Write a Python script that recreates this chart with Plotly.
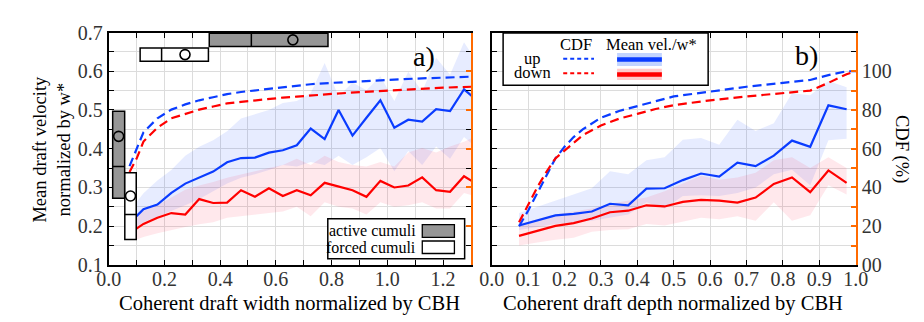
import plotly.graph_objects as go

# ---------------- Panel a) : draft width ----------------
width_x = [0.1, 0.125, 0.175, 0.225, 0.275, 0.325, 0.375, 0.425, 0.475, 0.525, 0.575, 0.625, 0.675,
           0.725, 0.775, 0.825, 0.875, 0.925, 0.975, 1.025, 1.075, 1.125, 1.175, 1.225, 1.275, 1.325]
width_up_mean = [0.226, 0.244, 0.256, 0.286, 0.310, 0.326, 0.341, 0.365, 0.376, 0.377, 0.390, 0.396, 0.409,
                 0.452, 0.425, 0.500, 0.434, 0.480, 0.525, 0.454, 0.475, 0.470, 0.502, 0.497, 0.553, 0.523]
width_up_hi = [0.262, 0.285, 0.318, 0.345, 0.382, 0.405, 0.422, 0.445, 0.478, 0.490, 0.500, 0.518, 0.523,
               0.543, 0.621, 0.535, 0.571, 0.551, 0.587, 0.523, 0.599, 0.547, 0.635, 0.591, 0.675, 0.620]
width_up_lo = [0.198, 0.210, 0.225, 0.240, 0.254, 0.270, 0.290, 0.310, 0.325, 0.334, 0.345, 0.358, 0.354,
               0.366, 0.358, 0.382, 0.358, 0.378, 0.402, 0.342, 0.394, 0.358, 0.406, 0.374, 0.430, 0.400]
width_dn_mean = [0.194, 0.206, 0.222, 0.234, 0.230, 0.270, 0.260, 0.261, 0.293, 0.276, 0.298, 0.278, 0.293,
                 0.280, 0.312, 0.302, 0.293, 0.276, 0.317, 0.300, 0.305, 0.326, 0.293, 0.289, 0.329, 0.307]
width_dn_hi = [0.226, 0.240, 0.254, 0.275, 0.294, 0.305, 0.314, 0.325, 0.334, 0.342, 0.350, 0.358, 0.374,
               0.358, 0.382, 0.366, 0.358, 0.354, 0.366, 0.354, 0.390, 0.402, 0.390, 0.406, 0.418, 0.435]
width_dn_lo = [0.166, 0.172, 0.182, 0.190, 0.198, 0.205, 0.210, 0.222, 0.226, 0.230, 0.234, 0.238, 0.250,
               0.226, 0.262, 0.250, 0.246, 0.230, 0.262, 0.250, 0.254, 0.262, 0.246, 0.246, 0.286, 0.275]

width_cdf_x = [0.075, 0.1, 0.125, 0.175, 0.225, 0.275, 0.325, 0.375, 0.425, 0.475, 0.525, 0.575, 0.625,
               0.675, 0.725, 0.8, 0.9, 1.0, 1.1, 1.2, 1.3]
width_cdf_up = [51.0, 59.6, 68.5, 75.7, 80.2, 82.9, 85.0, 86.6, 88.2, 89.3, 90.1, 90.9, 91.7,
                92.5, 93.3, 94.0, 94.9, 95.5, 96.2, 96.8, 97.2]
width_cdf_dn = [48.0, 54.8, 63.7, 70.9, 75.7, 78.1, 80.2, 81.8, 83.4, 84.2, 85.0, 85.6, 86.4,
                86.9, 87.5, 88.3, 89.2, 90.0, 90.8, 91.5, 92.0]

# box statistics (q1, median, q3, mean)
box_width_active = [0.361, 0.512, 0.787, 0.661]   # horizontal box (width)
box_width_forced = [0.113, 0.190, 0.358, 0.274]
box_vel_active = [0.272, 0.354, 0.497, 0.432]     # vertical box (velocity)
box_vel_forced = [0.166, 0.230, 0.338, 0.278]

# ---------------- Panel b) : draft depth ----------------
depth_x = [0.075, 0.125, 0.175, 0.225, 0.275, 0.325, 0.375, 0.425, 0.475, 0.525,
           0.575, 0.625, 0.675, 0.725, 0.775, 0.825, 0.875, 0.925, 0.975]
depth_up_mean = [0.202, 0.216, 0.228, 0.232, 0.238, 0.258, 0.254, 0.297, 0.298, 0.319,
                 0.336, 0.328, 0.364, 0.355, 0.382, 0.421, 0.405, 0.512, 0.502]
depth_up_hi = [0.234, 0.250, 0.266, 0.282, 0.298, 0.342, 0.334, 0.370, 0.378, 0.423,
               0.428, 0.410, 0.475, 0.446, 0.466, 0.543, 0.538, 0.575, 0.559]
depth_up_lo = [0.190, 0.198, 0.206, 0.210, 0.214, 0.222, 0.230, 0.262, 0.246, 0.278,
               0.280, 0.278, 0.286, 0.300, 0.334, 0.346, 0.306, 0.422, 0.426]
depth_dn_mean = [0.175, 0.188, 0.201, 0.208, 0.220, 0.236, 0.240, 0.254, 0.251, 0.263,
                 0.268, 0.266, 0.261, 0.274, 0.309, 0.326, 0.288, 0.344, 0.312]
depth_dn_hi = [0.206, 0.218, 0.230, 0.238, 0.246, 0.258, 0.266, 0.274, 0.290, 0.310,
               0.330, 0.320, 0.326, 0.338, 0.370, 0.378, 0.350, 0.378, 0.350]
depth_dn_lo = [0.150, 0.158, 0.165, 0.170, 0.186, 0.190, 0.192, 0.206, 0.202, 0.212,
               0.222, 0.218, 0.226, 0.214, 0.262, 0.214, 0.228, 0.306, 0.282]

depth_cdf_x = [0.075, 0.1, 0.125, 0.15, 0.175, 0.2, 0.225, 0.25, 0.3, 0.35, 0.4, 0.45,
               0.5, 0.6, 0.7, 0.8, 0.875, 0.925, 0.975, 1.0]
depth_cdf_up = [20, 28, 37, 46, 55, 61, 66, 70, 76, 79.5, 82, 84.5,
                87, 89.5, 92, 94, 95.5, 98, 100, 100]
depth_cdf_dn = [22, 31, 40, 48, 55, 59, 63, 67, 72, 75.5, 78, 80.5,
                82.5, 85, 87, 88.5, 90, 94, 98.5, 100]

cdf_ticks = [0, 10, 20, 30, 40, 50, 60, 70, 80, 90, 100]
cdf_ticktext = ["00", "", "20", "", "40", "", "60", "", "80", "", "100"]

# ---------------- styling ----------------
FONT = "Liberation Serif"
BLUE = "#0a3cff"
RED = "#ff0000"
ORANGE = "#ff6a00"
BLUE_FILL = "rgba(20,70,255,0.10)"
RED_FILL = "rgba(255,30,70,0.10)"
GRID = "#dcdcdc"
GRAY = "#969696"

fig = go.Figure()


def band(x, lo, hi, color, xa, ya):
    fig.add_trace(go.Scatter(x=list(x) + list(x)[::-1], y=list(hi) + list(lo)[::-1],
                             fill="toself", fillcolor=color, line=dict(width=0),
                             mode="lines", hoverinfo="skip", showlegend=False,
                             xaxis=xa, yaxis=ya))


def line(x, y, color, xa, ya, dash="solid"):
    fig.add_trace(go.Scatter(x=x, y=y, mode="lines",
                             line=dict(color=color, width=2.2, dash=dash),
                             showlegend=False, xaxis=xa, yaxis=ya))


# panel a
band(width_x, width_up_lo, width_up_hi, BLUE_FILL, "x", "y")
band(width_x, width_dn_lo, width_dn_hi, RED_FILL, "x", "y")
line(width_x, width_up_mean, BLUE, "x", "y")
line(width_x, width_dn_mean, RED, "x", "y")
line(width_cdf_x, width_cdf_up, BLUE, "x", "y3", dash="9px,5px")
line(width_cdf_x, width_cdf_dn, RED, "x", "y3", dash="9px,5px")

# panel b
band(depth_x, depth_up_lo, depth_up_hi, BLUE_FILL, "x2", "y2")
band(depth_x, depth_dn_lo, depth_dn_hi, RED_FILL, "x2", "y2")
line(depth_x, depth_up_mean, BLUE, "x2", "y2")
line(depth_x, depth_dn_mean, RED, "x2", "y2")
line(depth_cdf_x, depth_cdf_up, BLUE, "x2", "y4", dash="9px,5px")
line(depth_cdf_x, depth_cdf_dn, RED, "x2", "y4", dash="9px,5px")

# ---------------- box plots (panel a) ----------------
shapes = []
VBOX_POS = {"active": (0.036, 0.0215), "forced": (0.0785, 0.0205)}
HBOX_POS = {"active": (0.681, 0.017), "forced": (0.643, 0.017)}
mean_x, mean_y = [], []
for key, stats in (("active", box_vel_active), ("forced", box_vel_forced)):
    c, h = VBOX_POS[key]
    fill = GRAY if key == "active" else "white"
    shapes.append(dict(type="rect", xref="x", yref="y", x0=c - h, x1=c + h, y0=stats[0], y1=stats[2],
                       fillcolor=fill, line=dict(color="black", width=1.5), layer="above"))
    shapes.append(dict(type="line", xref="x", yref="y", x0=c - h, x1=c + h, y0=stats[1], y1=stats[1],
                       line=dict(color="black", width=1.5), layer="above"))
    mean_x.append(c)
    mean_y.append(stats[3])
for key, stats in (("active", box_width_active), ("forced", box_width_forced)):
    c, h = HBOX_POS[key]
    fill = GRAY if key == "active" else "white"
    shapes.append(dict(type="rect", xref="x", yref="y", y0=c - h, y1=c + h, x0=stats[0], x1=stats[2],
                       fillcolor=fill, line=dict(color="black", width=1.5), layer="above"))
    shapes.append(dict(type="line", xref="x", yref="y", y0=c - h, y1=c + h, x0=stats[1], x1=stats[1],
                       line=dict(color="black", width=1.5), layer="above"))
    mean_x.append(stats[3])
    mean_y.append(c)

# mean markers (open circles, fixed pixel size, anchored at data values)
for mx, my in zip(mean_x, mean_y):
    shapes.append(dict(type="circle", xref="x", yref="y", xsizemode="pixel", ysizemode="pixel",
                       xanchor=mx, yanchor=my, x0=-5, x1=5, y0=-5, y1=5,
                       fillcolor="rgba(0,0,0,0)", line=dict(color="black", width=1.6), layer="above"))

W, H = 924.0, 322.0


def px(x):
    return x / W


def py(y):
    return (H - y) / H


# legend panel a
shapes.append(dict(type="rect", xref="paper", yref="paper", x0=px(316), x1=px(456.5), y0=py(257.3), y1=py(214.3),
                   fillcolor="white", line=dict(color="black", width=1.5), layer="above"))
shapes.append(dict(type="rect", xref="paper", yref="paper", x0=px(413), x1=px(446), y0=py(234.3), y1=py(220.7),
                   fillcolor=GRAY, line=dict(color="black", width=1.3), layer="above"))
shapes.append(dict(type="rect", xref="paper", yref="paper", x0=px(413), x1=px(446), y0=py(251.7), y1=py(238.3),
                   fillcolor="white", line=dict(color="black", width=1.3), layer="above"))

# legend panel b
shapes.append(dict(type="rect", xref="paper", yref="paper", x0=px(496), x1=px(706.5), y0=py(71), y1=py(15),
                   fillcolor="white", line=dict(color="black", width=1.5), layer="above"))
shapes.append(dict(type="line", xref="paper", yref="paper", x0=px(557.7), x1=px(589.3), y0=py(42.7), y1=py(42.7),
                   line=dict(color=BLUE, width=2, dash="4px,3px"), layer="above"))
shapes.append(dict(type="line", xref="paper", yref="paper", x0=px(557.7), x1=px(589.3), y0=py(58.3), y1=py(58.3),
                   line=dict(color=RED, width=2, dash="4px,3px"), layer="above"))
shapes.append(dict(type="rect", xref="paper", yref="paper", x0=px(613), x1=px(659), y0=py(50.5), y1=py(36.5),
                   fillcolor="rgba(120,160,255,0.45)", line=dict(width=0), layer="above"))
shapes.append(dict(type="line", xref="paper", yref="paper", x0=px(613), x1=px(659), y0=py(43.5), y1=py(43.5),
                   line=dict(color=BLUE, width=4.5), layer="above"))
shapes.append(dict(type="rect", xref="paper", yref="paper", x0=px(613), x1=px(659), y0=py(65.5), y1=py(53.5),
                   fillcolor="rgba(255,140,140,0.45)", line=dict(width=0), layer="above"))
shapes.append(dict(type="line", xref="paper", yref="paper", x0=px(613), x1=px(659), y0=py(59.5), y1=py(59.5),
                   line=dict(color=RED, width=4.5), layer="above"))

annotations = []


def text(t, x, y, size, xanchor="center", angle=0, color="black"):
    annotations.append(dict(text=t, x=px(x), y=py(y), xref="paper", yref="paper", showarrow=False,
                            xanchor=xanchor, yanchor="middle", textangle=angle,
                            font=dict(family=FONT, size=size, color=color)))


text("a)", 415, 40, 28)
text("b)", 807, 39, 28)
text("Coherent draft width normalized by CBH", 277, 305, 20.5)
text("Coherent draft depth normalized by CBH", 670, 305, 20.5)
text("Mean draft velocity<br>normalized by w*", 33, 140, 18.5, angle=-90)
text("CDF (%)", 905, 140, 18.5, angle=90)
text("active cumuli", 409, 227.5, 16, xanchor="right")
text("forced cumuli", 409, 245, 16, xanchor="right")
text("CDF", 571, 27, 16.5)
text("Mean vel./w*", 648, 27, 16.5)
text("up", 526, 42.5, 16.5)
text("down", 526, 57.5, 16.5)

tickfont = dict(family=FONT, size=20, color="#333333")
ydom = [py(264), py(14.5)]

common_x = dict(ticks="inside", ticklen=5, tickwidth=1.3, tickcolor="black", showline=True,
                linecolor="black", linewidth=2, mirror="ticks", showgrid=True, gridcolor=GRID, gridwidth=1,
                zeroline=False, tickfont=tickfont, tickformat=".1f", ticklabelstandoff=-5)
common_y = dict(ticks="inside", ticklen=5, tickwidth=1.3, tickcolor="black", showline=True,
                linecolor="black", linewidth=2, mirror="ticks", showgrid=True, gridcolor=GRID, gridwidth=1,
                zeroline=False, tickfont=tickfont, tickformat=".1f", range=[0.1, 0.7], dtick=0.1, tick0=0.1,
                minor=dict(dtick=0.05, ticks="inside", ticklen=5, tickcolor="black", showgrid=True,
                           gridcolor=GRID, gridwidth=1),
                domain=ydom)

fig.update_layout(
    width=924, height=322, margin=dict(l=0, r=0, t=0, b=0),
    paper_bgcolor="white", plot_bgcolor="white", showlegend=False,
    xaxis=dict(common_x, domain=[px(91), px(463)], range=[0, 1.3], dtick=0.2, tick0=0, anchor="y",
               minor=dict(dtick=0.1, ticks="inside", ticklen=5, tickcolor="black", showgrid=True,
                          gridcolor=GRID, gridwidth=1)),
    yaxis=dict(common_y, anchor="x"),
    xaxis2=dict(common_x, domain=[px(484.3), px(858)], range=[0, 1.0], dtick=0.1, tick0=0, anchor="y2"),
    yaxis2=dict(common_y, anchor="x2", showticklabels=False),
    yaxis3=dict(overlaying="y", anchor="x", side="right", range=[0, 120], tickvals=[0, 20, 40, 60, 80, 100, 120],
                ticks="inside", ticklen=5, tickwidth=1.5, tickcolor=ORANGE, showline=True, linecolor=ORANGE,
                linewidth=2, showticklabels=False, showgrid=False, zeroline=False),
    yaxis4=dict(overlaying="y2", anchor="x2", side="right", range=[0, 120], tickvals=cdf_ticks,
                ticktext=cdf_ticktext, ticks="inside", ticklen=5, tickwidth=1.5, tickcolor=ORANGE,
                showline=True, linecolor=ORANGE, linewidth=2, showgrid=False, zeroline=False,
                tickfont=tickfont),
    shapes=shapes, annotations=annotations,
)

fig.write_html("out.html")
